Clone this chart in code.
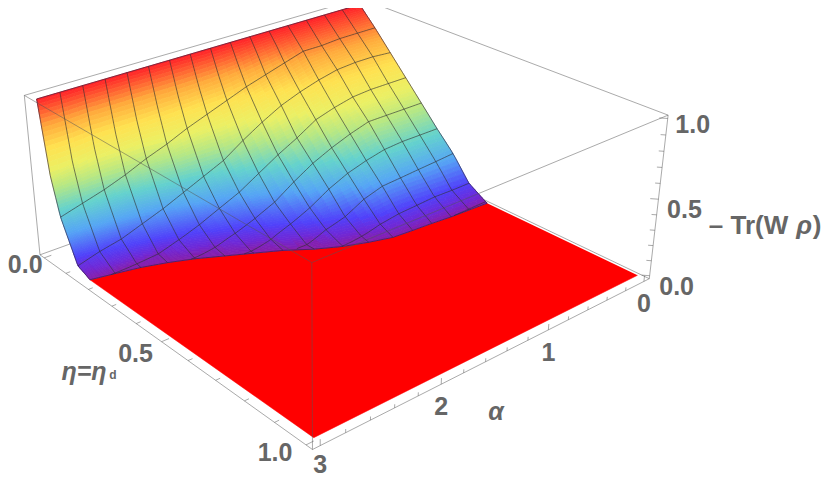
import numpy as np, altair as alt
alt.data_transformers.disable_max_rows()

# alpha nodes (k*3/16) and eta nodes of the value table
ALPHA = [3*k/16 for k in range(17)]
ETA = [0, 1/32, 1/16, 2/16, 3/16, 4/16, 5/16, 6/16, 7/16, 8/16, 9/16]
Z0 = [1.0]*17
Z1 = [.94,.94,.94,.935,.935,.92,.90,.87,.84,.81,.78,.75,.71,.67,.63,.58,.54]
Z2 = [.88,.88,.88,.87,.87,.83,.79,.75,.70,.65,.60,.54,.49,.43,.38,.34,.30]
Z3 = [.75,.76,.76,.75,.72,.68,.63,.56,.48,.39,.33,.27,.21,.16,.11,.08,.04]
Z4 = [.62,.62,.62,.61,.58,.54,.46,.39,.31,.23,.17,.11,.06,.02,.01,0,0]
Z5 = [.49,.49,.49,.49,.45,.40,.34,.26,.17,.11,.06,.02,0,0,0,0,0]
Z6 = [.36,.36,.36,.35,.32,.28,.22,.14,.08,.03,0,0,0,0,0,0,0]
Z7 = [.24,.23,.22,.21,.20,.16,.09,.05,0,0,0,0,0,0,0,0,0]
Z8 = [.09,.09,.09,.08,.07,.05,.02,0,0,0,0,0,0,0,0,0,0]
Z9 = [.03,.03,.02,.01,0,0,0,0,0,0,0,0,0,0,0,0,0]
Z10 = [0]*17
ZT = np.array([Z0,Z1,Z2,Z3,Z4,Z5,Z6,Z7,Z8,Z9,Z10],float)
# eta at which the surface meets the floor, per alpha node
EDGE = [.506,.503,.50,.494,.49,.485,.465,.44,.405,.36,.325,.29,.255,.227,.205,.19,.176]

# colour stops: height -> rgb
CZ = [0,.03,.08,.21,.335,.47,.57,.70,.83,1]
CR = [135,110,80,85,100,185,235,255,255,255]
CG = [30,40,65,165,210,232,240,225,170,30]
CB = [170,215,250,245,205,130,100,80,60,40]

# camera matrix of the 3D box
P = np.array([[-0.2242201308382847, 0.37774618035591556, -0.030230696299831366, 0.7672485750204333],
              [0.0548582342670129, 0.19145940156692215, -0.2933519280445154, 0.3028575136714638],
              [-9.681734399419328e-05, -0.00034678567338326804, -9.386762130321469e-05, 0.002142719938487553]])
PA, PE, PZ = .06, .02, .02

def proj(a, e, z):
    h = P @ np.array([a, e, z, 1.0])
    return round(float(h[0]/h[2]), 2), round(float(h[1]/h[2]), 2)
def edge(a): return float(np.interp(a, ALPHA, EDGE))
def zraw(a, e):
    col = [np.interp(a, ALPHA, r) for r in ZT]
    return float(np.interp(e, ETA, col))
def zval(a, e):
    u = min(e/edge(a), 1.0)
    return max(zraw(a, e) - u**6*zraw(a, edge(a)), 0.0)
def colour(z):
    return "#%02x%02x%02x" % tuple(int(round(np.interp(z, CZ, c))) for c in (CR, CG, CB))

quads = []
A_R = np.linspace(0, 3, 41)
U_R = np.linspace(0, 1, 71)**1.25
q = 0
for i in range(len(A_R)-1):
    a0, a1 = A_R[i], A_R[i+1]
    for j in range(len(U_R)-1):
        corners = [(a0, U_R[j]), (a1, U_R[j]), (a1, U_R[j+1]), (a0, U_R[j+1]), (a0, U_R[j])]
        am, um = (a0+a1)/2, (U_R[j]+U_R[j+1])/2
        c = colour(zval(am, um*edge(am)))
        for n, (a, u) in enumerate(corners):
            e = u*edge(a)
            x, y = proj(a, e, zval(a, e))
            quads.append(dict(x=x, y=y, q=q, i=n, c=c))
        q += 1

floor = []
for n, a in enumerate(np.linspace(0, 3, 49)):
    x, y = proj(a, edge(a), 0); floor.append(dict(x=x, y=y, i=n))
for a, e in [(3, 1), (0, 1)]:
    n += 1; x, y = proj(a, e, 0); floor.append(dict(x=x, y=y, i=n))

mesh = []; m = 0
def add(seq, store):
    global m
    for n, (a, e) in enumerate(seq):
        x, y = proj(a, e, zval(a, e))
        store.append(dict(x=x, y=y, m=m, i=n))
    m += 1
for k in range(1, 16):
    a = 3*k/16
    add([(a, u*edge(a)) for u in np.linspace(0, 1, 40)**1.35], mesh)
for k in range(1, 9):
    e = k/16
    seq = [(a, e) for a in np.linspace(0, 3, 97) if edge(a) > e]
    add(seq, mesh)
outline = []
add([(0, u*edge(0)) for u in np.linspace(0, 1, 30)], outline)
add([(3, u*edge(3)) for u in np.linspace(0, 1, 30)**1.35], outline)
add([(a, 0) for a in (0, 3)], outline)
add([(a, edge(a)) for a in np.linspace(0, 3, 49)], outline)

amin, amax, emin, emax, zmin, zmax = -PA, 3+PA, -PE, 1+PE, -PZ, 1+PZ
def seg(store, p, r):
    global m
    for n, (a, e, z) in enumerate((p, r)):
        x, y = proj(a, e, z); store.append(dict(x=x, y=y, m=m, i=n))
    m += 1
back = []
seg(back, (amax,emin,zmax), (amin,emin,zmax))
seg(back, (amin,emin,zmax), (amin,emax,zmax))
seg(back, (amax,emin,zmin), (amin,emin,zmin))
seg(back, (amin,emin,zmin), (amin,emax,zmin))
seg(back, (amin,emin,zmin), (amin,emin,zmax))
seg(back, (amax,emin,zmin), (amax,emin,zmax))
front = []
seg(front, (amax,emin,zmax), (amax,emax,zmax))
seg(front, (amax,emax,zmax), (amin,emax,zmax))
seg(front, (amax,emax,zmax), (amax,emax,zmin))
seg(front, (amax,emin,zmin), (amax,emax,zmin))
seg(front, (amax,emax,zmin), (amin,emax,zmin))
seg(front, (amin,emax,zmin), (amin,emax,zmax))
for k in range(16):
    a = k*.2
    seg(front, (a,emax,zmin), (a,emax,zmin+(.038 if k%5==0 else .022)))
for k in range(11):
    e = k*.1
    L = .02 if k%5==0 else .012
    seg(front, (amax,e,zmin), (amax-L*3,e,zmin))
for k in range(11):
    z = k*.1
    L = 1.6 if k%5==0 else 1.0
    seg(front, (amin,emax,z), (amin+.0226*L,emax-.0088*L,z))

def lab(text, anchor, dx, dy):
    x, y = proj(*anchor)
    return dict(x=x+dx, y=y+dy, t=text)
A_LABELS = ["0","1","2","3"]
E_LABELS = ["0.0","0.5","1.0"]
Z_LABELS = ["0.0","0.5","1.0"]
labels = []
for v, t, dy in zip([0,1,2,3], A_LABELS, [23,23,23,19]): labels.append(lab(t,(v,emax,zmin),0,dy))
for v, t, dx, dy in zip([0,.5,1], E_LABELS,[-19,-26,-31],[7,12,8]): labels.append(lab(t,(amax,v,zmin),dx,dy))
for v, t, dx, dy in zip([0,.5,1], Z_LABELS,[27,26,25],[11,11,7]): labels.append(lab(t,(amin,emax,v),dx,dy))

X = alt.X("x:Q", scale=alt.Scale(domain=[8,822], nice=False, zero=False), axis=None)
Y = alt.Y("y:Q", scale=alt.Scale(domain=[476,8], nice=False, zero=False), axis=None)

def lines(rows, color, w, op):
    return alt.Chart(alt.Data(values=rows)).mark_line(stroke=color, strokeWidth=w, opacity=op).encode(
        x=X, y=Y, detail="m:Q", order="i:Q")
def text(rows, size, style="normal"):
    return alt.Chart(alt.Data(values=rows)).mark_text(font="Liberation Sans", fontSize=size, fontWeight="bold",
        fontStyle=style, color="#666666", baseline="middle", align="center").encode(x=X, y=Y, text="t:N")

surface = alt.Chart(alt.Data(values=quads)).mark_line(strokeWidth=.8).encode(
    x=X, y=Y, detail="q:Q", order="i:Q",
    fill=alt.Fill("c:N", scale=None), stroke=alt.Stroke("c:N", scale=None))
floor_m = alt.Chart(alt.Data(values=floor)).mark_line(fill="#ff0000", stroke="#ff0000", strokeWidth=.5).encode(
    x=X, y=Y, order="i:Q")

chart = alt.layer(
    lines(back, "#555555", 1, .5),
    floor_m, surface,
    lines(mesh, "#303030", 1, .62),
    lines(outline, "#302040", .9, .7),
    lines(front, "#555555", 1, .5),
    text(labels, 25),
    text([dict(x=748.5,y=226,t="– Tr(W")], 26),
    text([dict(x=804,y=226,t="ρ")], 26, "italic"),
    text([dict(x=817,y=226,t=")")], 26),
    text([dict(x=496,y=412,t="α")], 25, "italic"),
    text([dict(x=84,y=372,t="η=η")], 25, "italic"),
    text([dict(x=113,y=375,t="d")], 12),
).properties(width=814, height=468, padding=0, autosize=alt.AutoSizeParams(type="none")).configure_view(stroke=None)
chart.save("out.html", embed_options={"renderer": "svg", "actions": False})
